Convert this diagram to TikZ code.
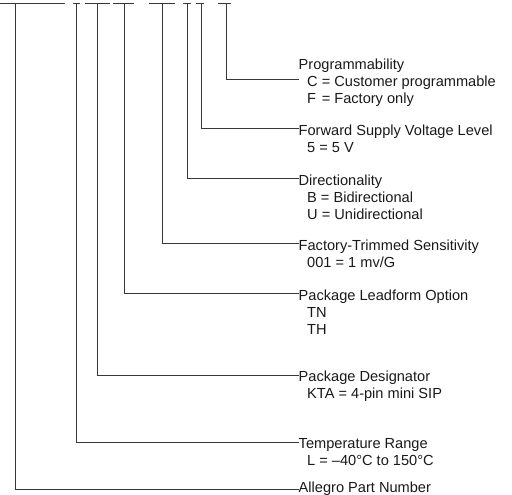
\documentclass[tikz,border=0pt]{standalone}
\usepackage{fontspec}
\setmainfont{Liberation Sans}
\usetikzlibrary{positioning}

\definecolor{leadgray}{gray}{0.22}
\definecolor{labelgray}{gray}{0.1}

\newcommand{\ttl}[1]{\strut#1}
\newcommand{\opt}[1]{\strut\hspace*{8.5pt}#1}

\tikzset{
    lead/.style={draw=leadgray, line width=1pt},
    field/.style={anchor=north west, inner sep=0pt, align=left, text=labelgray,
        font=\fontsize{14.6pt}{17pt}\selectfont},
}

\begin{document}
\begin{tikzpicture}[x=1pt, y=-1pt]
        \useasboundingbox (0,0) rectangle (512,495);

        \foreach \a/\b in {0/65, 73/80, 85/110, 113/134, 149/175, 183/191, 196/204, 218/231}
            \draw[lead] (\a,3.5) -- (\b,3.5);

        \coordinate (pn-part) at (15.5,3.5);
        \coordinate (pn-temp) at (76.5,3.5);
        \coordinate (pn-pkg) at (97.5,3.5);
        \coordinate (pn-lead) at (124,3.5);
        \coordinate (pn-sens) at (162,3.5);
        \coordinate (pn-dir) at (187.5,3.5);
        \coordinate (pn-fwd) at (201.5,3.5);
        \coordinate (pn-prog) at (226,3.5);

        \node[field] (prog) at (298.5,57.6) {\ttl{Programmability}\\\opt{C = Customer programmable}\\\opt{F\kern1.6pt{} = Factory only}};
        \node[field] (fwd) at (298.5,122.9) {\ttl{Forward Supply Voltage Level}\\\opt{5 = 5 V}};
        \node[field] (dir) at (298.5,172.9) {\ttl{Directionality}\\\opt{B = Bidirectional}\\\opt{U = Unidirectional}};
        \node[field] (sens) at (298.5,237.9) {\ttl{Factory-Trimmed Sensitivity}\\\opt{001 = 1 mv/G}};
        \node[field] (lead) at (298.5,287.9) {\ttl{Package Leadform Option}\\\opt{TN}\\\opt{TH}};
        \node[field] (pkg) at (298.5,369.6) {\ttl{Package Designator}\\\opt{KTA = 4-pin mini SIP}};
        \node[field] (temp) at (298.5,436.6) {\ttl{Temperature Range}\\\opt{L = –40°C to 150°C}};
        \node[field] (part) at (298.5,480.6) {\ttl{Allegro Part Number}};

        \draw[lead] (pn-prog) |- ([yshift=-22.4pt]prog.north west);
        \draw[lead] (pn-fwd) |- ([yshift=-5.4pt]fwd.north west);
        \draw[lead] (pn-dir) |- ([yshift=-5.4pt]dir.north west);
        \draw[lead] (pn-sens) |- ([yshift=-5.4pt]sens.north west);
        \draw[lead] (pn-lead) |- ([yshift=-5.4pt]lead.north west);
        \draw[lead] (pn-pkg) |- ([yshift=-5.4pt]pkg.north west);
        \draw[lead] (pn-temp) |- ([yshift=-5.4pt]temp.north west);
        \draw[lead] (pn-part) |- ([yshift=-8.4pt]part.north west);
\end{tikzpicture}
\end{document}
